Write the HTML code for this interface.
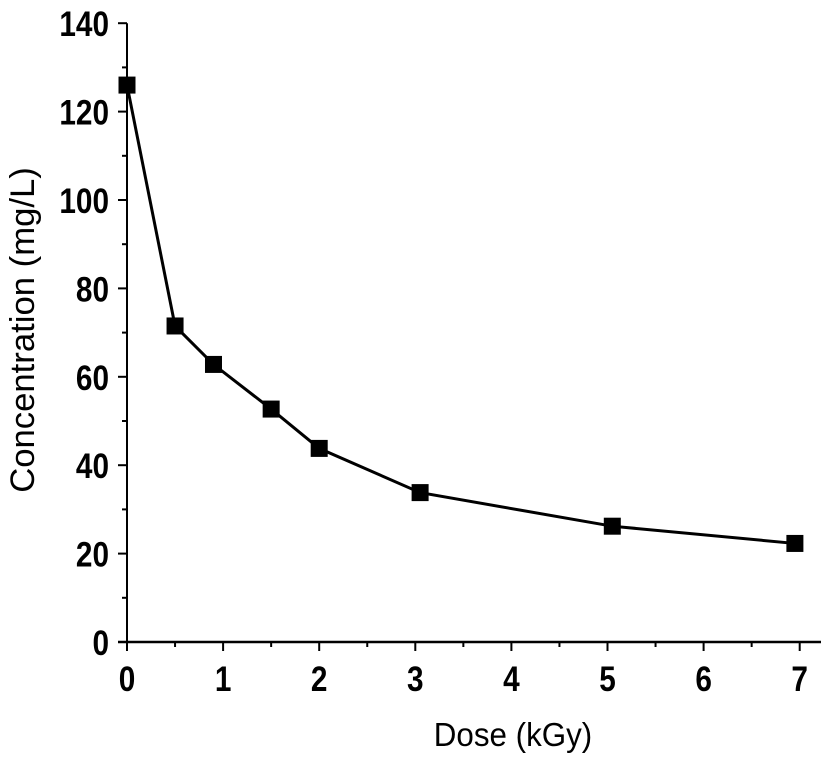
<!DOCTYPE html>
<html><head><meta charset="utf-8"><style>
html,body{margin:0;padding:0;background:#fff;}
svg text{font-family:"Liberation Sans",Arial,sans-serif;fill:#000;}
</style></head><body>
<svg id="chart" width="821" height="758" viewBox="0 0 821 758" xmlns="http://www.w3.org/2000/svg">
<g id="axes"></g>
<g id="series"></g>
<text x="0" y="0" text-anchor="middle" font-size="33" transform="translate(513 746) scale(0.95 1)">Dose (kGy)</text>
<text x="0" y="0" text-anchor="middle" font-size="34" transform="translate(34 330) rotate(-90) scale(1.02 1)">Concentration (mg/L)</text>
</svg>
<script>
const doses = [0, 0.5, 0.9, 1.5, 2.0, 3.05, 5.05, 6.95];
const concentrations = [126, 71.5, 62.8, 52.7, 43.8, 33.8, 26.2, 22.3];
const xTicks = [0, 1, 2, 3, 4, 5, 6, 7];
const yTicks = [0, 20, 40, 60, 80, 100, 120, 140];

const NS = 'http://www.w3.org/2000/svg';
const x0 = 127, xPerUnit = 96.1, y0 = 642, yPerUnit = 88.4 / 20;
const sx = v => x0 + v * xPerUnit;
const sy = v => y0 - v * yPerUnit;
function mk(tag, attrs, parent) {
  const e = document.createElementNS(NS, tag);
  for (const k in attrs) e.setAttribute(k, attrs[k]);
  parent.appendChild(e);
  return e;
}
const axes = document.getElementById('axes');
const xl = mk('line', {x1: 118, y1: y0, x2: 821, y2: y0, stroke: '#000', 'stroke-width': 2.5}, axes);


const yl = mk('line', {x1: x0, y1: sy(140), x2: x0, y2: y0 + 8, stroke: '#000', 'stroke-width': 2}, axes);


xTicks.forEach((t, i) => {
  const tk = mk('line', {x1: sx(t), y1: y0, x2: sx(t), y2: y0 + 9, stroke: '#000', 'stroke-width': 2}, axes);
  
  
  if (i < xTicks.length - 1) {
    const mn = mk('line', {x1: sx(t + 0.5), y1: y0, x2: sx(t + 0.5), y2: y0 + 5, stroke: '#000', 'stroke-width': 2}, axes);
    
    
  }
  const lb = mk('text', {x: 0, y: 0, 'text-anchor': 'middle', 'font-size': 35, 'font-weight': 'bold', transform: 'translate(' + sx(t) + ' ' + (y0 + 49) + ') scale(0.85 1)'}, axes);
  lb.textContent = t;
  
  
});
yTicks.forEach((t, i) => {
  const tk = mk('line', {x1: x0 - 9, y1: sy(t), x2: x0, y2: sy(t), stroke: '#000', 'stroke-width': 2}, axes);
  
  
  if (i < yTicks.length - 1) {
    const mn = mk('line', {x1: x0 - 5, y1: sy(t + 10), x2: x0, y2: sy(t + 10), stroke: '#000', 'stroke-width': 2}, axes);
    
    
  }
  const lb = mk('text', {x: 0, y: 0, 'text-anchor': 'end', 'font-size': 35, 'font-weight': 'bold', transform: 'translate(' + (x0 - 18) + ' ' + (sy(t) + 13) + ') scale(0.85 1)'}, axes);
  lb.textContent = t;
  
  
});
const series = document.getElementById('series');
const pts = doses.map((d, i) => sx(d) + ',' + sy(concentrations[i])).join(' ');
const pl = mk('polyline', {points: pts, fill: 'none', stroke: '#000', 'stroke-width': 3}, series);


doses.forEach((d, i) => {
  const r = mk('rect', {x: sx(d) - 8.5, y: sy(concentrations[i]) - 8.5, width: 17, height: 17, fill: '#000'}, series);
  
  
});
</script>
</body></html>
